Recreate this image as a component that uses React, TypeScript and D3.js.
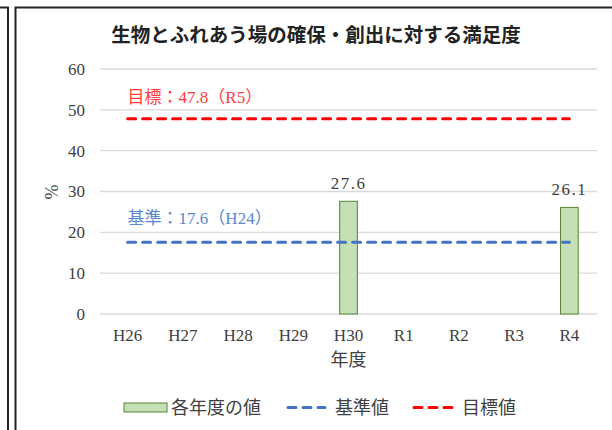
import * as d3 from 'd3';

const title = '生物とふれあう場の確保・創出に対する満足度';
const years = ['H26', 'H27', 'H28', 'H29', 'H30', 'R1', 'R2', 'R3', 'R4'];
const values: (number | null)[] = [null, null, null, null, 27.6, null, null, null, 26.1];
const yTicks = [0, 10, 20, 30, 40, 50, 60];
const baseValue = 17.6;
const baseLabel = '基準：17.6（H24）';
const targetValue = 47.8;
const targetLabel = '目標：47.8（R5）';
const legendNames = ['各年度の値', '基準値', '目標値'];

const W = 612;
const H = 430;
const serif = "'Liberation Serif', 'Noto Sans CJK JP'";
const gothic = "'Noto Sans CJK JP', sans-serif";
const barFill = '#C5E0B4';
const barStroke = '#548235';
const blue = '#4472C4';
const red = '#FF0000';
const ink = '#404040';

const App = () => {
  const x = d3.scaleBand<string>().domain(years).range([100, 597]).padding(0);
  const y = d3.scaleLinear().domain([0, 60]).range([314, 69]);
  const bw = x.bandwidth() * 0.32;
  const cx = (d: string) => (x(d) ?? 0) + x.bandwidth() / 2;
  const lineX0 = cx(years[0]);
  const lineX1 = cx(years[years.length - 1]);

  return (
    <svg
      width={W}
      height={H}
      style={{ position: 'absolute', left: 0, top: 0, background: '#fff' }}
    >
      {/* neighbour box edge and chart frame */}
      <path d="M0,7.5 H8 V430" fill="none" stroke="#222" strokeWidth={2} />
      <path d="M15.5,430 V7.5 H612" fill="none" stroke="#222" strokeWidth={2} />

      <text
        x={316}
        y={42}
        textAnchor="middle"
        style={{ fontFamily: gothic, fontWeight: 'bold', fontSize: 19.5 }}
        fill="#222"
      >
        {title}
      </text>

      {/* grid */}
      {yTicks.map((t) => (
        <g key={t}>
          <line x1={100} x2={597} y1={y(t)} y2={y(t)} stroke="#D9D9D9" strokeWidth={1.3} />
          <text
            x={85}
            y={y(t)}
            dy="0.35em"
            textAnchor="end"
            style={{ fontFamily: serif, fontSize: 17 }}
            fill={ink}
          >
            {t}
          </text>
        </g>
      ))}

      <text
        transform={`translate(52,192) rotate(-90)`}
        textAnchor="middle"
        dy="0.35em"
        style={{ fontFamily: serif, fontSize: 18 }}
        fill={ink}
      >
        %
      </text>

      {/* bars */}
      {years.map((d, i) => {
        const v = values[i];
        if (v == null) return null;
        return (
          <g key={d}>
            <rect
              x={cx(d) - bw / 2}
              y={y(v)}
              width={bw}
              height={y(0) - y(v)}
              fill={barFill}
              stroke={barStroke}
              strokeWidth={1}
            />
            <text
              x={cx(d)}
              y={y(v) - 12}
              textAnchor="middle"
              style={{ fontFamily: serif, fontSize: 17, letterSpacing: 1.5 }}
              fill={ink}
            >
              {v.toFixed(1)}
            </text>
          </g>
        );
      })}

      {/* reference lines */}
      <line
        x1={lineX0}
        x2={lineX1}
        y1={y(targetValue)}
        y2={y(targetValue)}
        stroke={red}
        strokeWidth={3}
        strokeDasharray="8,7"
        strokeLinecap="round"
      />
      <line
        x1={lineX0}
        x2={lineX1}
        y1={y(baseValue)}
        y2={y(baseValue)}
        stroke={blue}
        strokeWidth={3}
        strokeDasharray="8,7"
        strokeLinecap="round"
      />
      <text x={lineX0} y={103} style={{ fontFamily: serif, fontSize: 17 }} fill="#FF3B3B">
        {targetLabel}
      </text>
      <text x={lineX0} y={224} style={{ fontFamily: serif, fontSize: 17 }} fill="#5B86D0">
        {baseLabel}
      </text>

      {/* x axis labels */}
      {years.map((d) => (
        <text
          key={d}
          x={cx(d)}
          y={341}
          textAnchor="middle"
          style={{ fontFamily: serif, fontSize: 17 }}
          fill={ink}
        >
          {d}
        </text>
      ))}
      <text x={cx('H30')} y={366} textAnchor="middle" style={{ fontFamily: serif, fontSize: 18 }} fill={ink}>
        年度
      </text>

      {/* legend */}
      <rect x={124} y={403} width={43} height={9} fill={barFill} stroke={barStroke} strokeWidth={1} />
      <text x={171} y={414} style={{ fontFamily: serif, fontSize: 18 }} fill={ink}>
        {legendNames[0]}
      </text>
      <line
        x1={288}
        x2={325}
        y1={407.5}
        y2={407.5}
        stroke={blue}
        strokeWidth={3}
        strokeDasharray="8,7"
        strokeLinecap="round"
      />
      <text x={335} y={414} style={{ fontFamily: serif, fontSize: 18 }} fill={ink}>
        {legendNames[1]}
      </text>
      <line
        x1={414}
        x2={452}
        y1={407.5}
        y2={407.5}
        stroke={red}
        strokeWidth={3}
        strokeDasharray="8,7"
        strokeLinecap="round"
      />
      <text x={462} y={414} style={{ fontFamily: serif, fontSize: 18 }} fill={ink}>
        {legendNames[2]}
      </text>
    </svg>
  );
};

export default App;
